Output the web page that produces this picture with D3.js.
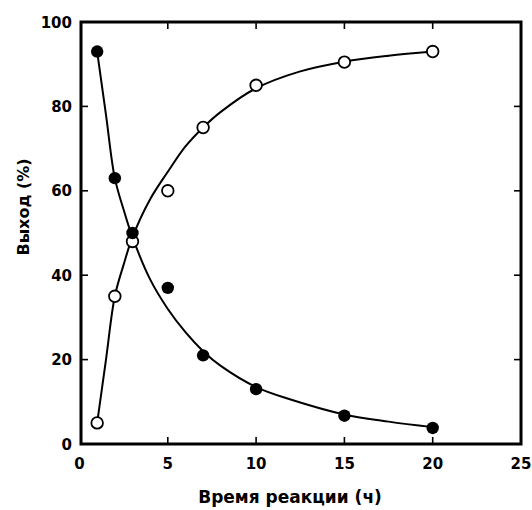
<!DOCTYPE html>
<html><head><meta charset="utf-8">
<script src="https://cdn.jsdelivr.net/npm/d3@7"></script>
<style>body{margin:0;background:#fff}svg{display:block}</style>
</head><body>
<svg id="c" width="532" height="510"></svg>
<script>
const xTicks=[0,5,10,15,20,25];
const yTicks=[0,20,40,60,80,100];
const time=[1,2,3,5,7,10,15,20];
const filledVals=[93,63,50,37,21,13,6.7,3.8];
const openVals=[5,35,48,60,75,85,90.5,93];
const filledFitX=[1,1.5,2,2.5,3,4,5,6,7,8,10,12,15,17.5,20];
const filledFitY=[93,78,63,55.5,49,39,32,26.5,22,18.5,13.5,10.5,7,5.3,4];
const openFitX=[1,1.5,2,2.5,3,4,5,6,7,8,10,12.5,15,17.5,20];
const openFitY=[5,20,35,42.5,49,58,64.5,70.5,75,78.7,84.3,88.3,90.6,92,93];
const xTitle="Время реакции (ч)";
const yTitle="Выход (%)";

const svg=d3.select("#c");
const L=81,R=521,T=22,B=444;
const x=d3.scaleLinear().domain([0,25]).range([79.5,521]);
const y=d3.scaleLinear().domain([0,100]).range([B,T]);
const font="'DejaVu Sans', sans-serif";

// fit curves
const line=d3.line().x(d=>x(d[0])).y(d=>y(d[1])).curve(d3.curveCatmullRom.alpha(0.5));
svg.append("path").attr("d",line(filledFitX.map((v,i)=>[v,filledFitY[i]])))
  .attr("fill","none").attr("stroke","#000").attr("stroke-width",2);
svg.append("path").attr("d",line(openFitX.map((v,i)=>[v,openFitY[i]])))
  .attr("fill","none").attr("stroke","#000").attr("stroke-width",2);

// frame
svg.append("rect").attr("x",L).attr("y",T).attr("width",R-L).attr("height",B-T)
  .attr("fill","none").attr("stroke","#000").attr("stroke-width",3);

// ticks inward
const inner=[5,10,15,20];
inner.forEach(t=>{
  svg.append("line").attr("x1",x(t)).attr("x2",x(t)).attr("y1",B).attr("y2",B-7).attr("stroke","#000").attr("stroke-width",1.6);
  svg.append("line").attr("x1",x(t)).attr("x2",x(t)).attr("y1",T).attr("y2",T+7).attr("stroke","#000").attr("stroke-width",1.6);
});
[20,40,60,80].forEach(t=>{
  svg.append("line").attr("x1",L).attr("x2",L+7).attr("y1",y(t)).attr("y2",y(t)).attr("stroke","#000").attr("stroke-width",1.6);
  svg.append("line").attr("x1",R).attr("x2",R-7).attr("y1",y(t)).attr("y2",y(t)).attr("stroke","#000").attr("stroke-width",1.6);
});

// tick labels
svg.selectAll(".xl").data(xTicks).enter().append("text")
  .attr("x",d=>x(d)).attr("y",469).attr("text-anchor","middle")
  .attr("font-family",font).attr("font-weight","bold").attr("font-size",15).text(d=>d);
svg.selectAll(".yl").data(yTicks).enter().append("text")
  .attr("x",72).attr("y",d=>y(d)+5.5).attr("text-anchor","end")
  .attr("font-family",font).attr("font-weight","bold").attr("font-size",15).text(d=>d);

// titles
svg.append("text").attr("x",290).attr("y",503).attr("text-anchor","middle")
  .attr("font-family",font).attr("font-weight","bold").attr("font-size",17).text(xTitle);
svg.append("text").attr("transform","translate(29,207) rotate(-90)").attr("text-anchor","middle")
  .attr("font-family",font).attr("font-weight","bold").attr("font-size",16).text(yTitle);

// points
svg.selectAll(".o").data(time).enter().append("circle")
  .attr("cx",d=>x(d)).attr("cy",(d,i)=>y(openVals[i])).attr("r",5.8)
  .attr("fill","#fff").attr("stroke","#000").attr("stroke-width",1.8);
svg.selectAll(".f").data(time).enter().append("circle")
  .attr("cx",d=>x(d)).attr("cy",(d,i)=>y(filledVals[i])).attr("r",6.2)
  .attr("fill","#000");
</script>
</body></html>
